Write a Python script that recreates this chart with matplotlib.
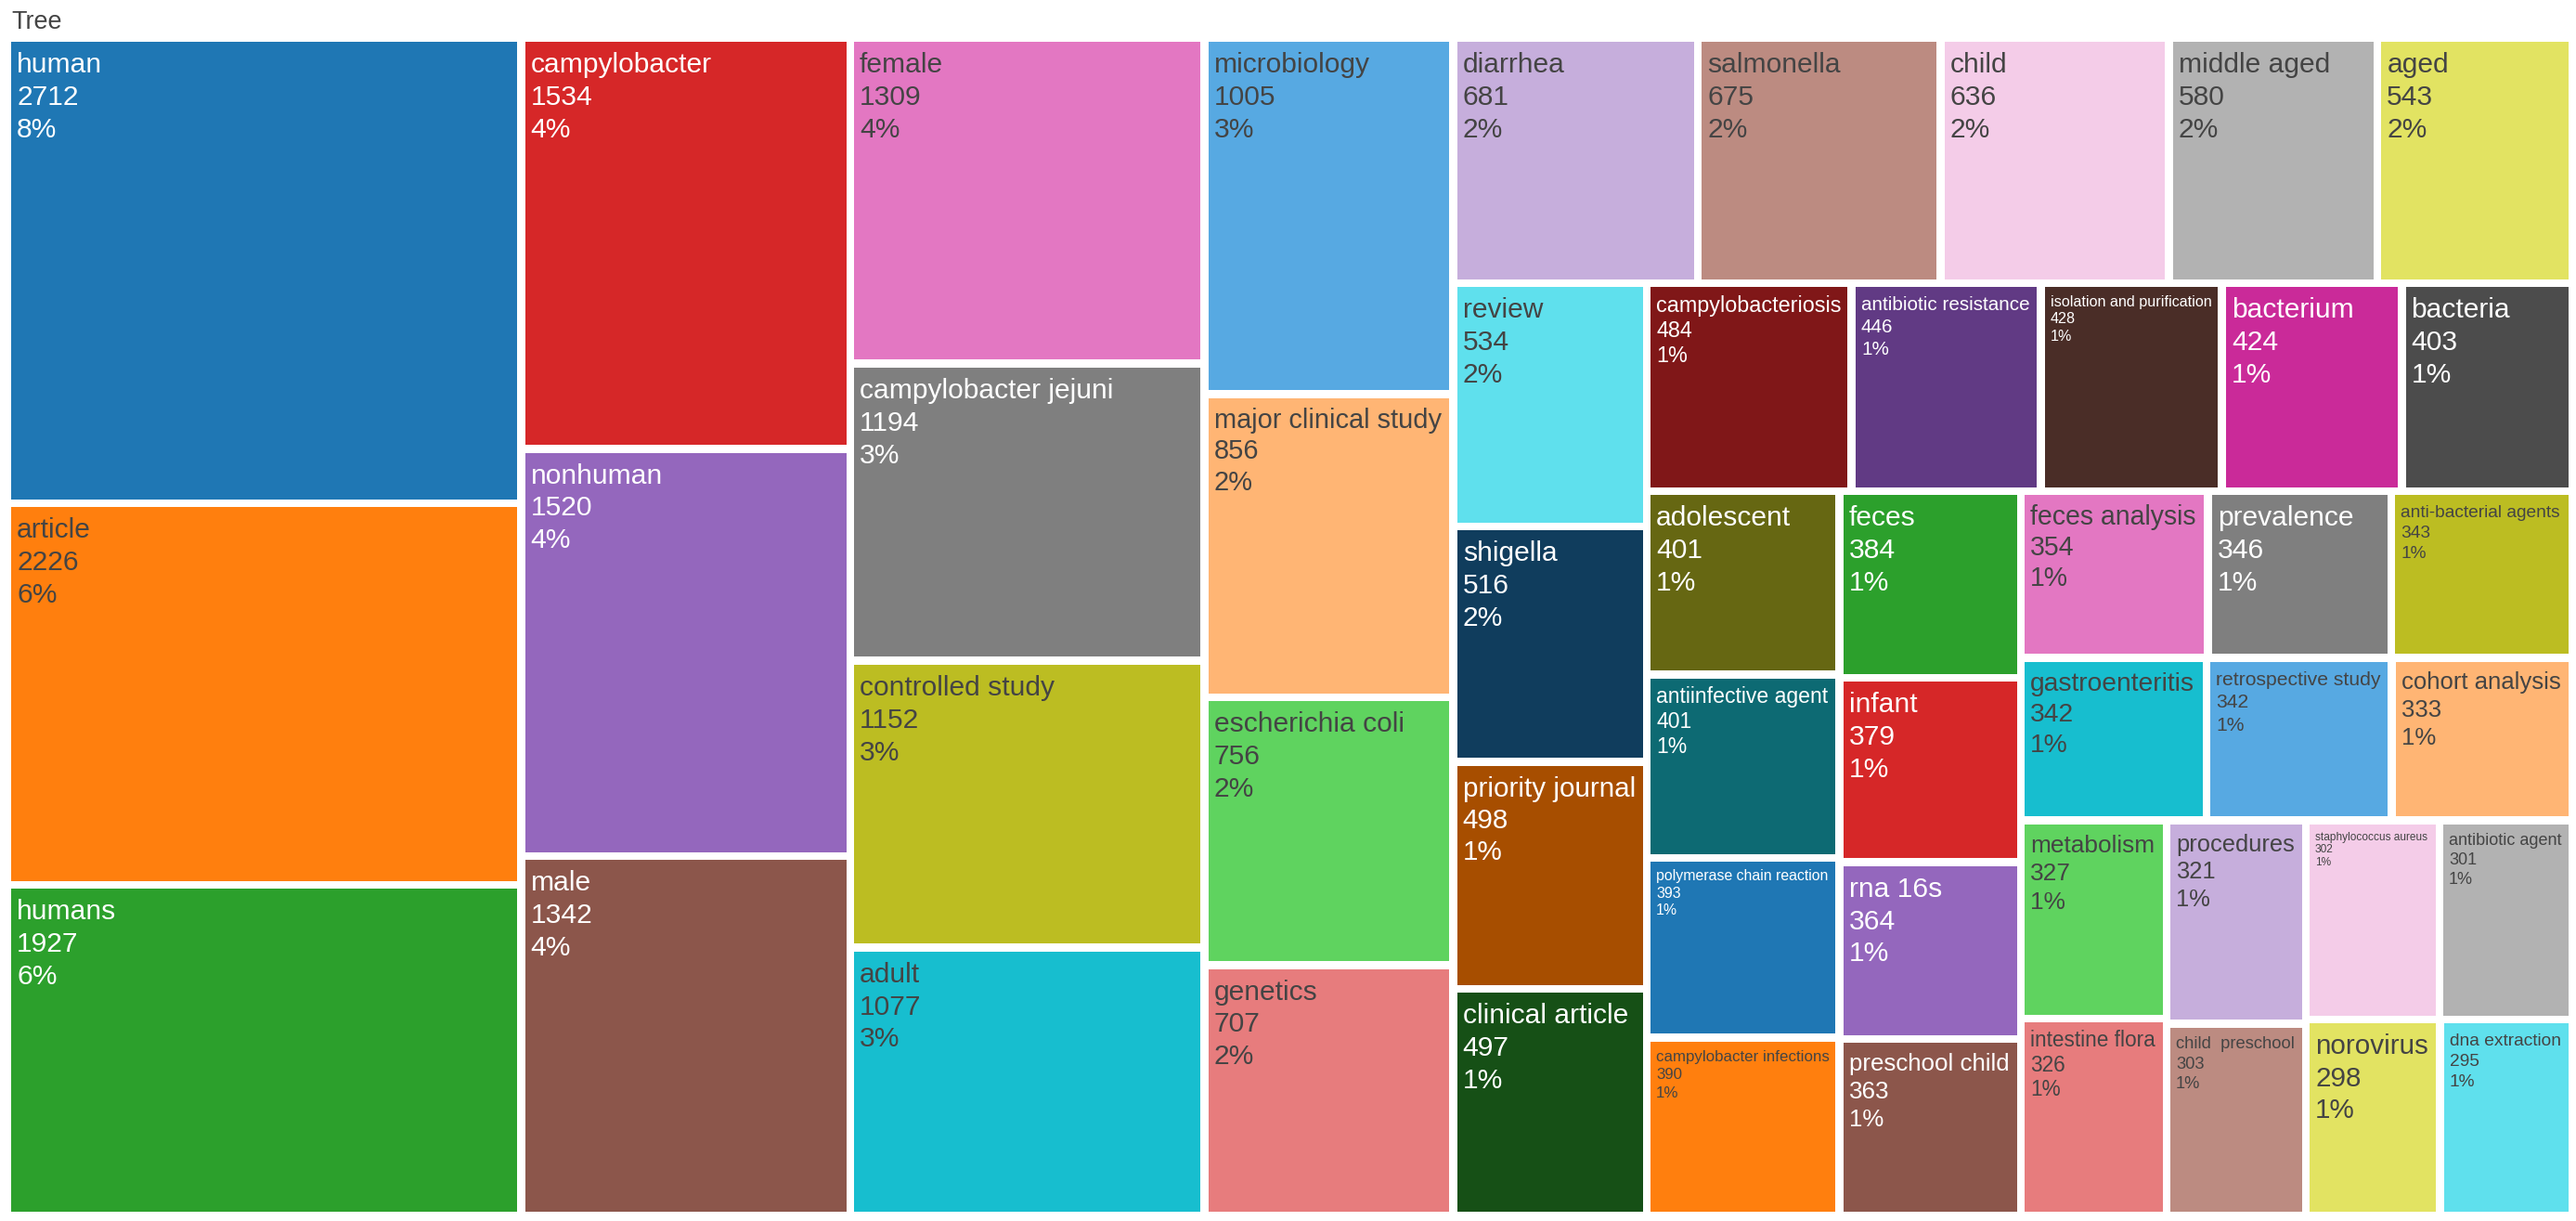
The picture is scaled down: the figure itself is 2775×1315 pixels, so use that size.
import colorsys

import matplotlib
matplotlib.use("Agg")
import matplotlib.pyplot as plt
from matplotlib.patches import Rectangle
from matplotlib.font_manager import FontProperties
from matplotlib.colors import to_rgb, to_hex

# keyword counts, largest first (this is also the tile order)
labels = [
    "human", "article", "humans",
    "campylobacter", "nonhuman", "male",
    "female", "campylobacter jejuni", "controlled study", "adult",
    "microbiology", "major clinical study", "escherichia coli", "genetics",
    "diarrhea", "salmonella", "child", "middle aged", "aged",
    "review", "shigella", "priority journal", "clinical article",
    "campylobacteriosis", "antibiotic resistance", "isolation and purification",
    "bacterium", "bacteria",
    "adolescent", "antiinfective agent", "polymerase chain reaction",
    "campylobacter infections",
    "feces", "infant", "rna 16s", "preschool child",
    "feces analysis", "prevalence", "anti-bacterial agents",
    "gastroenteritis", "retrospective study", "cohort analysis",
    "metabolism", "intestine flora", "procedures", "child  preschool",
    "staphylococcus aureus", "antibiotic agent", "norovirus", "dna extraction",
]
counts = [
    2712, 2226, 1927,
    1534, 1520, 1342,
    1309, 1194, 1152, 1077,
    1005, 856, 756, 707,
    681, 675, 636, 580, 543,
    534, 516, 498, 497,
    484, 446, 428, 424, 403,
    401, 401, 393, 390,
    384, 379, 364, 363,
    354, 346, 343,
    342, 342, 333,
    327, 326, 321, 303,
    302, 301, 298, 295,
]

W, H = 2775, 1315
GAP = 8.5
FONT = ["DejaVu Sans Condensed", "Liberation Sans", "DejaVu Sans"]
MAX_FS = 30.0      # px
LINE = 1.16        # line spacing, in font sizes
PAD = 6.0


def squarify(vals, x0, y0, x1, y1, ratio=1.0):
    # port of d3-hierarchy squarifyRatio
    n = len(vals)
    out = [None] * n
    value = float(sum(vals))
    i0 = i1 = 0
    while i0 < n:
        dx, dy = x1 - x0, y1 - y0
        s = vals[i1]
        i1 += 1
        vmin = vmax = s
        alpha = max(dy / dx, dx / dy) / (value * ratio)
        beta = s * s * alpha
        best = max(vmax / beta, beta / vmin)
        while i1 < n:
            v = vals[i1]
            s += v
            vmin = min(vmin, v)
            vmax = max(vmax, v)
            beta = s * s * alpha
            r = max(vmax / beta, beta / vmin)
            if r > best:
                s -= v
                break
            best = r
            i1 += 1
        if dx < dy:
            hh = dy * s / value
            xx = x0
            for i in range(i0, i1):
                ww = dx * vals[i] / s
                out[i] = (xx, y0, ww, hh)
                xx += ww
            y0 += hh
        else:
            ww = dx * s / value
            yy = y0
            for i in range(i0, i1):
                hh = dy * vals[i] / s
                out[i] = (x0, yy, ww, hh)
                yy += hh
            x0 += ww
        value -= s
        i0 = i1
    return out


def shade(c, amt):
    h, l, s = colorsys.rgb_to_hls(*to_rgb(c))
    l = min(1.0, max(0.0, l + amt))
    return to_hex(colorsys.hls_to_rgb(h, l, s))


base = ["#1f77b4", "#ff7f0e", "#2ca02c", "#d62728", "#9467bd",
        "#8c564b", "#e377c2", "#7f7f7f", "#bcbd22", "#17becf"]
palette = base + [shade(c, 0.2) for c in base] + [shade(c, -0.2) for c in base]

fig = plt.figure(figsize=(W / 100, H / 100), dpi=100)
ax = fig.add_axes([0, 0, 1, 1])
ax.set_xlim(0, W)
ax.set_ylim(H, 0)
ax.axis("off")

renderer = fig.canvas.get_renderer()
prop100 = FontProperties(family=FONT, size=72)  # 100 px at dpi 100

total = sum(counts)
rects = squarify(counts, 12 - GAP / 2, 45 - GAP / 2, 2767 + GAP / 2, 1305 + GAP / 2)

for i, (x, y, w, h) in enumerate(rects):
    x, y, w, h = x + GAP / 2, y + GAP / 2, w - GAP, h - GAP
    col = palette[i % len(palette)]
    ax.add_patch(Rectangle((x, y), w, h, facecolor=col, edgecolor="none"))

    r, g, b = [v * 255 for v in to_rgb(col)]
    bright = (r * 299 + g * 587 + b * 114) / 1000
    tcol = "#444444" if bright >= 128 else "white"

    lines = [labels[i], str(counts[i]), "%d%%" % round(100 * counts[i] / total)]
    widest = max(renderer.get_text_width_height_descent(t, prop100, False)[0]
                 for t in lines) / 100.0
    fs = min(MAX_FS, (w - 2 * PAD - 2) / widest, (h - 2 * PAD) / (0.9 + 2 * LINE + 0.3))
    for k, t in enumerate(lines):
        ax.text(x + PAD, y + PAD + 0.9 * fs + k * LINE * fs, t,
                fontsize=fs * 0.72, color=tcol, family=FONT,
                ha="left", va="baseline")

ax.text(12, 31, "Tree", fontsize=27 * 0.72, color="#444444", family=FONT,
        ha="left", va="baseline")

fig.savefig("out.png", dpi=100, facecolor="white")
